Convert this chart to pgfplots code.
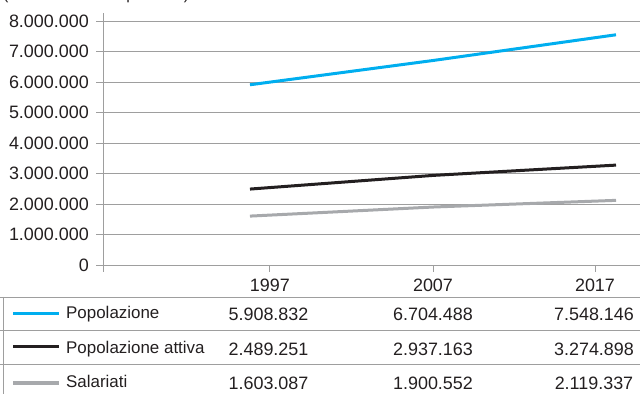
\documentclass[border=0pt]{standalone}
\usepackage{pgfplots}
\pgfplotsset{compat=1.18}
\usepackage{fontspec}
\setmainfont{Liberation Sans}
\definecolor{cblue}{HTML}{00AEEF}
\definecolor{cblack}{HTML}{231F20}
\definecolor{cgray}{HTML}{A7A9AC}
\definecolor{gridc}{HTML}{9E9E9E}
\definecolor{txt}{HTML}{231F20}

\pgfplotstableread{
year pop att sal
1997 5908832 2489251 1603087
2007 6704488 2937163 1900552
2017 7548146 3274898 2119337
}\datatab

\begin{document}
\begin{tikzpicture}
\useasboundingbox (0bp,0bp) rectangle (640bp,394bp);
\begin{scope}
\clip (0bp,0bp) rectangle (640bp,394bp);
\begin{axis}[
  at={(103bp,129bp)}, anchor=south west,
  scale only axis, width=537bp, height=252bp,
  xmin=1988.97, xmax=2018.31, ymin=0, ymax=8262000,
  axis x line*=bottom, axis y line*=left,
  axis line style={draw=gridc, line width=0.9bp, -},
  ytick={0,1000000,2000000,3000000,4000000,5000000,6000000,7000000,8000000},
  ymajorgrids, grid style={draw=gridc, line width=0.9bp},
  xtick={1988.97,1998.09,2007,2015.85}, xticklabels={,1997,2007,2017},
  tick align=outside, major tick length=7bp,
  tick style={draw=gridc, line width=0.9bp},
  scaled y ticks=false,
  yticklabel={\pgfmathprintnumber[fixed,1000 sep={.},assume math mode=true]{\tick}},
  yticklabel style={font=\fontsize{18}{20}\selectfont, text=txt, anchor=east, inner sep=0pt, xshift=-7bp},
  xticklabel style={font=\fontsize{18}{20}\selectfont, text=txt, anchor=north, inner sep=0pt, yshift=-7bp},
]
\addplot[cblue, line width=3bp] table[x=year, y=pop] {\datatab};
\addplot[cblack, line width=3bp] table[x=year, y=att] {\datatab};
\addplot[cgray, line width=3bp] table[x=year, y=sal] {\datatab};
\end{axis}
\end{scope}
\begin{scope}[x=1bp,y=1bp]
\clip (0,0) rectangle (640,394);
\node[anchor=base west, inner sep=0pt, font=\fontsize{16}{20}\selectfont, text=txt] at (3,394.5) {(valori assoluti in persone)};
\draw[gridc, line width=0.9bp] (0,97) -- (640,97);
\draw[gridc, line width=0.9bp] (0,64) -- (640,64);
\draw[gridc, line width=0.9bp] (0,30) -- (640,30);
\draw[gridc, line width=0.9bp] (3,97) -- (3,0);
\draw[cblue, line width=3bp] (13,80) -- (59,80);
\draw[cblack, line width=3bp] (13,47) -- (59,47);
\draw[cgray, line width=3bp] (13,11) -- (59,11);
\begin{scope}[every node/.style={inner sep=0pt, text=txt, font=\fontsize{17}{20}\selectfont}]
\node[anchor=base west] at (66,76) {Popolazione};
\node[anchor=base west] at (66,41) {Popolazione attiva};
\node[anchor=base west] at (66,7) {Salariati};
\end{scope}
\begin{scope}[every node/.style={inner sep=0pt, anchor=base, text=txt, font=\fontsize{18}{20}\selectfont}]
\node at (268.5,74) {5.908.832};
\node at (433,74) {6.704.488};
\node at (594,74) {7.548.146};
\node at (268.5,39) {2.489.251};
\node at (433,39) {2.937.163};
\node at (594,39) {3.274.898};
\node at (268.5,5) {1.603.087};
\node at (433,5) {1.900.552};
\node at (594,5) {2.119.337};
\end{scope}
\end{scope}
\end{tikzpicture}
\end{document}
